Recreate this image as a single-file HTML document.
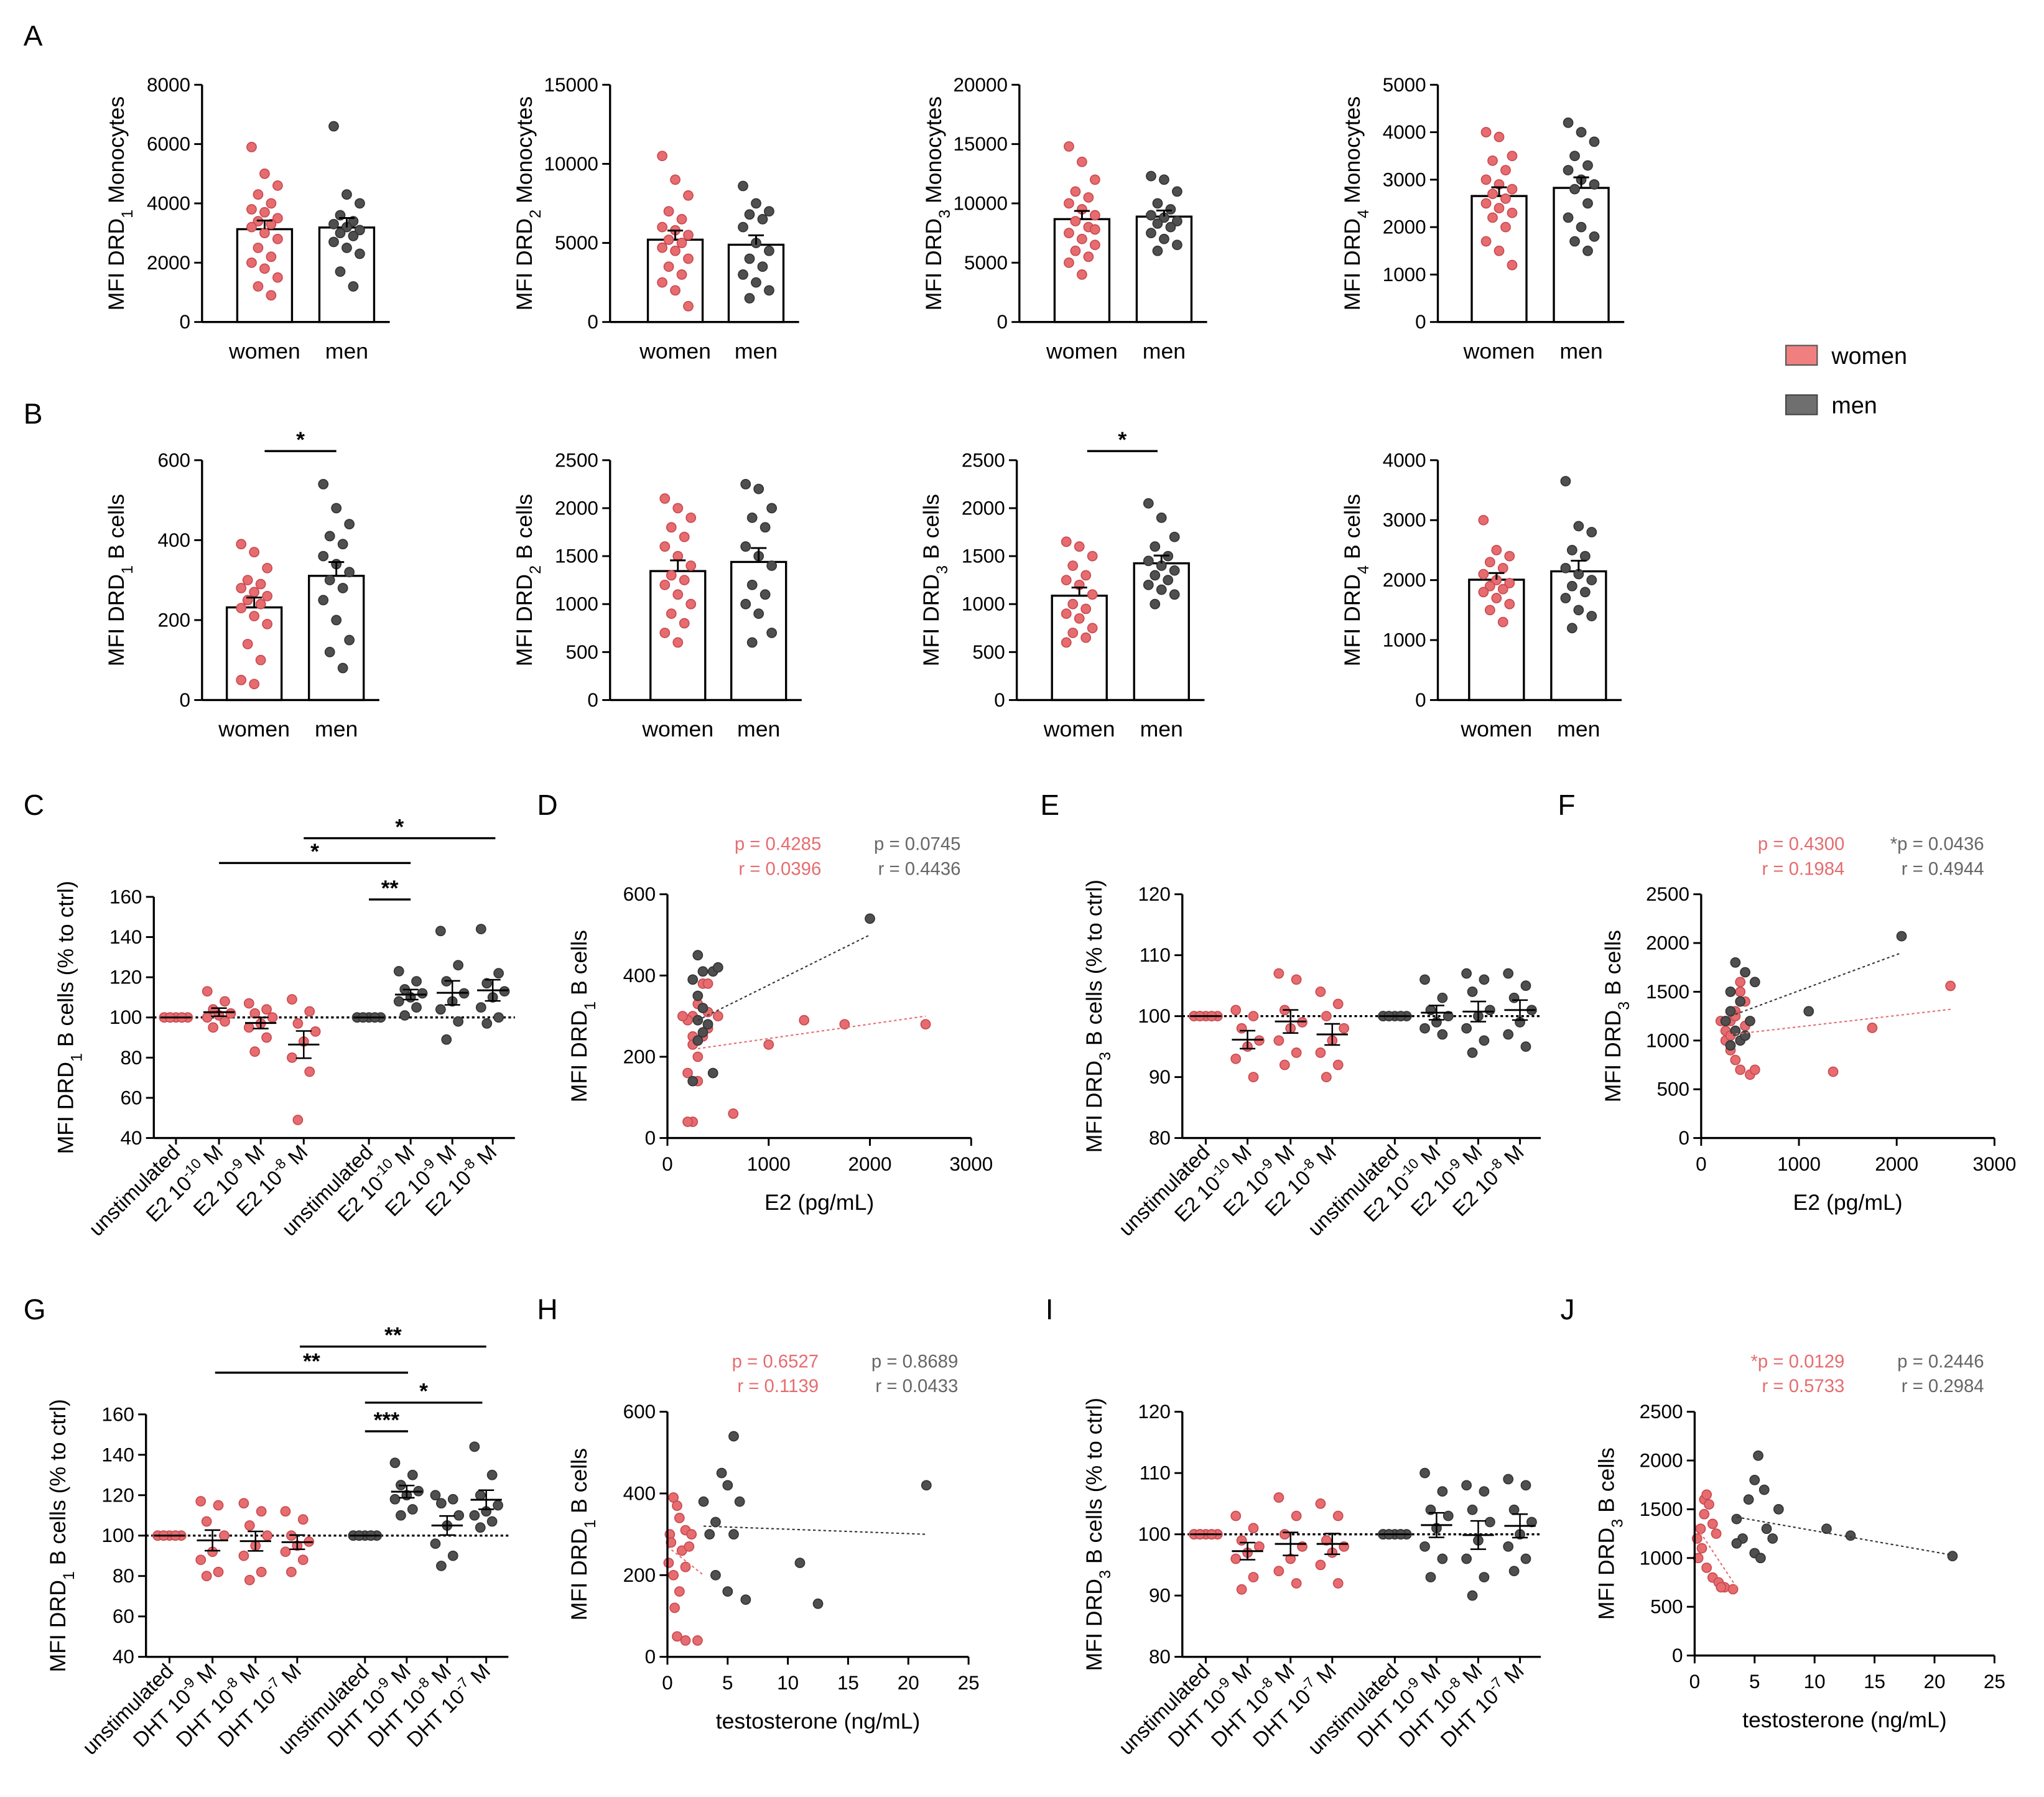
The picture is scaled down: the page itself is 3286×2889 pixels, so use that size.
<!DOCTYPE html>
<html><head><meta charset="utf-8"><style>
html,body{margin:0;padding:0;background:#fff}
svg{display:block;font-family:"Liberation Sans",Arial,sans-serif}
</style></head><body>
<svg id="fig" xmlns="http://www.w3.org/2000/svg" width="3286" height="2889" viewBox="0 0 1568 1378.5">
<rect width="1568" height="1378.5" fill="#fff"/>
<g id="root"></g>
</svg>
<script>
// ---------- data ----------
const barCategories = ["women","men"];
const a1Women=[5900,5000,4600,4300,4000,3800,3700,3500,3400,3300,3200,3000,2800,2500,2200,2000,1800,1500,1200,900];
const a1Men=[6600,4300,4000,3600,3400,3300,3200,3100,3000,2900,2700,2500,2300,1700,1200];
const a2Women=[10500,9000,8000,7000,6500,6000,5800,5500,5200,5000,4700,4500,4000,3500,3000,2500,2000,1000];
const a2Men=[8600,7500,7000,6800,6500,6000,5000,4500,4000,3500,3000,2500,2000,1500];
const a3Women=[14800,13500,12000,11000,10500,10000,9500,9000,8500,8000,7500,7000,6500,6000,5500,5000,4000,7800];
const a3Men=[12300,12000,11000,10000,9500,9000,8800,8500,8300,8000,7500,7000,6500,6000];
const a4Women=[4000,3900,3500,3400,3200,3000,2900,2800,2700,2600,2500,2400,2300,2200,2000,1700,1500,1200];
const a4Men=[4200,4000,3800,3500,3300,3200,3000,2900,2800,2500,2200,2000,1800,1700,1500];
const b1Women=[390,370,330,300,290,280,270,260,250,240,230,210,190,140,100,50,40];
const b1Men=[540,480,440,410,390,360,340,320,300,280,250,200,150,120,80];
const b2Women=[2100,2000,1900,1800,1700,1600,1500,1400,1300,1250,1200,1100,1000,900,800,700,600];
const b2Men=[2250,2200,2000,1900,1800,1600,1500,1400,1200,1100,1000,900,700,600];
const b3Women=[1650,1600,1500,1400,1300,1250,1200,1100,1000,950,900,850,750,700,650,600];
const b3Men=[2050,1900,1700,1600,1500,1450,1400,1350,1300,1250,1200,1150,1100,1000];
const b4Women=[3000,2500,2400,2300,2200,2100,2000,1950,1900,1850,1800,1700,1600,1500,1300];
const b4Men=[3650,2900,2800,2500,2400,2200,2100,2000,1900,1800,1700,1500,1400,1200];

const e2Labels=[["unstimulated","",""],["E2 10","-10"," M"],["E2 10","-9"," M"],["E2 10","-8"," M"],["unstimulated","",""],["E2 10","-10"," M"],["E2 10","-9"," M"],["E2 10","-8"," M"]];
const dhtLabels=[["unstimulated","",""],["DHT 10","-9"," M"],["DHT 10","-8"," M"],["DHT 10","-7"," M"],["unstimulated","",""],["DHT 10","-9"," M"],["DHT 10","-8"," M"],["DHT 10","-7"," M"]];
const unst=[100,100,100,100,100,100,100,100];
const cValues=[unst,[113,108,104,102,101,100,98,95],[107,104,102,100,97,95,90,83],[109,103,97,93,88,80,73,49],
 unst,[123,118,114,112,110,108,105,101],[143,126,118,112,108,104,98,89],[144,122,117,113,110,105,100,97]];
const eValues=[unst,[101,100,98,96,95,93,90],[107,106,101,99,98,96,94,92],[104,102,100,98,96,94,92,90],
 unst,[106,103,101,100,99,98,97],[107,106,104,101,100,98,96,94],[107,105,103,101,99,97,95]];
const gValues=[unst,[117,115,107,100,92,88,82,80],[116,112,105,100,95,90,82,78],[112,108,100,97,95,92,88,82],
 unst,[136,130,125,122,120,118,113,110],[120,118,116,110,105,96,90,85],[144,130,120,115,112,110,107,104]];
const iValues=[unst,[103,101,99,98,97,96,93,91],[106,103,100,98,96,94,92],[105,103,99,98,97,95,92],
 unst,[110,107,104,103,101,98,96,93],[108,107,104,102,99,96,93,90],[109,108,104,102,100,98,96,94]];

const dWomenX=[250,300,350,400,200,250,300,350,250,200,300,400,400,1000,1350,1750,2550,650,250,200,150,500];
const dWomenY=[300,330,380,380,290,250,200,250,230,160,140,310,270,230,290,280,280,60,40,40,300,300];
const dMenX=[300,350,450,250,300,350,400,350,300,450,250,300,2000,500];
const dMenY=[450,410,410,390,350,320,280,260,240,160,140,290,540,420];
const fWomenX=[300,350,400,450,250,300,350,400,500,250,200,400,1350,1750,2550,350,450,550,300];
const fWomenY=[1200,1300,1500,1400,1100,900,800,700,650,1000,1200,1600,680,1130,1560,1250,1150,700,1050];
const fMenX=[350,450,550,300,400,300,250,350,400,500,450,1100,2050,300];
const fMenY=[1800,1700,1600,1500,1400,1300,1200,1100,1000,1200,1050,1300,2070,950];
const hWomenX=[0.2,0.5,0.8,1,1.5,2,0.3,1.2,1.5,0.5,1,0.8,1.5,2.5,0.1,1.8,0.6];
const hWomenY=[300,390,370,340,310,300,280,260,220,200,160,50,40,40,230,270,120];
const hMenX=[3,4,4.5,5,5.5,6,4,5,6.5,11,12.5,21.5,3.5,5.5];
const hMenY=[380,330,450,420,540,380,200,160,140,230,130,420,300,300];
const jWomenX=[0.2,0.5,0.8,1,1.2,1.5,0.3,1,1.5,2,2.5,3.2,0.8,1.8,2.2,0.6];
const jWomenY=[1200,1300,1600,1650,1550,1350,1000,900,800,750,700,680,1450,1250,700,1100];
const jMenX=[3.5,4,4.5,5,5.3,5.8,6,6.5,3.5,5,5.5,7,11,13,21.5];
const jMenY=[1400,1200,1600,1800,2050,1700,1300,1200,1150,1050,1000,1500,1300,1230,1020];

// ---------- drawing ----------
const NS="http://www.w3.org/2000/svg";
const root=document.getElementById('root');
const RED="#e66c70", GRAY="#4f4f4f";
function el(tag,attrs,parent,txt){const e=document.createElementNS(NS,tag);for(const k in attrs)e.setAttribute(k,attrs[k]);if(txt!==undefined)e.textContent=txt;(parent||root).appendChild(e);return e;}
function lin(d0,d1,r0,r1){return v=>r0+(v-d0)/(d1-d0)*(r1-r0);}
function mean(a){return a.reduce((s,v)=>s+v,0)/a.length;}
function sem(a){const m=mean(a);return Math.sqrt(a.reduce((s,v)=>s+(v-m)*(v-m),0)/(a.length-1))/Math.sqrt(a.length);}
function ylab(g,x,cy,pre,sub,post){
  const t=el('text',{x:0,y:0,transform:`translate(${x},${cy}) rotate(-90)`,'text-anchor':'middle','font-size':17},g);
  
  
  el('tspan',{},t,pre);
  if(sub){el('tspan',{'baseline-shift':'sub','font-size':12},t,sub);el('tspan',{},t,post);}
}
function yaxis(g,x,y0,y1,ticks,ys){
  el('line',{x1:x,y1:y0,x2:x,y2:y1,stroke:'#000','stroke-width':1.6},g);
  ticks.forEach(v=>{el('line',{x1:x-6,y1:ys(v),x2:x,y2:ys(v),stroke:'#000','stroke-width':1.4},g);
    const t=el('text',{x:x-9,y:ys(v)+5,'text-anchor':'end','font-size':15},g,String(v));
    
    });
}
function dot(g,x,y,c,name){const d=el('circle',{cx:x,cy:y,r:3.6,fill:c,stroke:c==RED?'#c84a50':'#333','stroke-width':0.8},g);
  
  }
function letter(x,y,L){const t=el('text',{x:x,y:y,'font-size':22},root,L);
  
  }
function sig(g,x1,x2,y,s){el('line',{x1:x1,y1:y,x2:x2,y2:y,stroke:'#000','stroke-width':1.6},g);
  const t=el('text',{x:(x1+x2)/2,y:y-3,'text-anchor':'middle','font-size':17,'font-weight':'bold'},g,s);
  
  }

function barPanel(name,ax,top,bot,ymax,step,centers,women,men,lab){
  const g=el('g',{});
  const ys=lin(0,ymax,bot,top);const ticks=[];for(let v=0;v<=ymax;v+=step)ticks.push(v);
  [women,men].forEach((arr,k)=>{
    const cx=centers[k],m=mean(arr),s=sem(arr),c=k?GRAY:RED;
    const b=el('rect',{x:cx-21,y:ys(m),width:42,height:bot-ys(m),fill:'#fff',stroke:'#000','stroke-width':1.6},g);
    
    
    arr.forEach((v,i)=>dot(g,cx+((i*7)%5-2)*5,ys(v),c,'dot-'+barCategories[k]));
    el('line',{x1:cx,y1:ys(m+s),x2:cx,y2:ys(m),stroke:'#000','stroke-width':1.4},g);
    el('line',{x1:cx-6,y1:ys(m+s),x2:cx+6,y2:ys(m+s),stroke:'#000','stroke-width':1.4},g);
    const t=el('text',{x:cx,y:bot+28,'text-anchor':'middle','font-size':17},g,barCategories[k]);
    
    
  });
  el('line',{x1:ax,y1:bot,x2:centers[1]+33,y2:bot,stroke:'#000','stroke-width':1.6},g);
  yaxis(g,ax,bot,top,ticks,ys);
  ylab(g,ax-60,(top+bot)/2,lab[0],lab[1],lab[2]);
  return {g,ys};
}
function stimPanel(name,ax,xend,top,bot,ymin,ymax,step,centers,vals,labels,lab){
  const g=el('g',{});
  const ys=lin(ymin,ymax,bot,top);const ticks=[];for(let v=ymin;v<=ymax;v+=step)ticks.push(v);
  el('line',{x1:ax,y1:ys(100),x2:xend,y2:ys(100),stroke:'#000','stroke-width':1.6,'stroke-dasharray':'2,2'},g);
  vals.forEach((arr,k)=>{
    const cx=centers[k],c=k<4?RED:GRAY,m=mean(arr),s=sem(arr);
    arr.forEach((v,i)=>dot(g,cx+((i*3)%5-2)*4.5,ys(v),c,'dot-'+(k<4?'women':'men')));
    el('line',{x1:cx-12,y1:ys(m),x2:cx+12,y2:ys(m),stroke:'#000','stroke-width':1.4},g);
    el('line',{x1:cx,y1:ys(m+s),x2:cx,y2:ys(m-s),stroke:'#000','stroke-width':1.2},g);
    el('line',{x1:cx-6,y1:ys(m+s),x2:cx+6,y2:ys(m+s),stroke:'#000','stroke-width':1.2},g);
    el('line',{x1:cx-6,y1:ys(m-s),x2:cx+6,y2:ys(m-s),stroke:'#000','stroke-width':1.2},g);
    el('line',{x1:cx,y1:bot,x2:cx,y2:bot+5,stroke:'#000','stroke-width':1.4},g);
    const L=labels[k];
    const t=el('text',{x:0,y:0,transform:`translate(${cx+4},${bot+12}) rotate(-45)`,'text-anchor':'end','font-size':16},g);
    
    
    el('tspan',{},t,L[0]);
    if(L[1]){el('tspan',{'baseline-shift':'super','font-size':11},t,L[1]);el('tspan',{},t,L[2]);}
  });
  el('line',{x1:ax,y1:bot,x2:xend,y2:bot,stroke:'#000','stroke-width':1.6},g);
  yaxis(g,ax,bot,top,ticks,ys);
  ylab(g,ax-62,(top+bot)/2,lab[0],lab[1],lab[2]);
  return g;
}
function scatPanel(name,ax,xend,top,bot,xmax,xstep,ymax,ystep,wx,wy,mx,my,wl,ml,txt,xtitle,lab){
  const g=el('g',{});
  const xs=lin(0,xmax,ax,xend),ys=lin(0,ymax,bot,top);
  const yt=[];for(let v=0;v<=ymax;v+=ystep)yt.push(v);
  const xt=[];for(let v=0;v<=xmax;v+=xstep)xt.push(v);
  wx.forEach((v,i)=>dot(g,xs(v),ys(wy[i]),RED,'point-women'));
  mx.forEach((v,i)=>dot(g,xs(v),ys(my[i]),GRAY,'point-men'));
  const l1=el('line',{x1:xs(ml[0]),y1:ys(ml[1]),x2:xs(ml[2]),y2:ys(ml[3]),stroke:'#333','stroke-width':1,'stroke-dasharray':'2,2'},g);
  
  const l2=el('line',{x1:xs(wl[0]),y1:ys(wl[1]),x2:xs(wl[2]),y2:ys(wl[3]),stroke:RED,'stroke-width':1,'stroke-dasharray':'2,2'},g);
  
  el('line',{x1:ax,y1:bot,x2:xend,y2:bot,stroke:'#000','stroke-width':1.6},g);
  xt.forEach(v=>{el('line',{x1:xs(v),y1:bot,x2:xs(v),y2:bot+6,stroke:'#000','stroke-width':1.4},g);
    const t=el('text',{x:xs(v),y:bot+25,'text-anchor':'middle','font-size':15},g,String(v));
    });
  yaxis(g,ax,bot,top,yt,ys);
  const xt2=el('text',{x:(ax+xend)/2,y:bot+55,'text-anchor':'middle','font-size':17},g,xtitle);
  
  ylab(g,ax-62,(top+bot)/2,lab[0],lab[1],lab[2]);
  [[txt[0],txt[1],RED],[txt[2],txt[3],'#666']].forEach((p,k)=>{
    const x=k?xend-8:xend-115;
    const t1=el('text',{x:x,y:top-34,'text-anchor':'end','font-size':14,fill:p[2]},g,p[0]);
    
    const t2=el('text',{x:x,y:top-15,'text-anchor':'end','font-size':14,fill:p[2]},g,p[1]);
    
  });
  return g;
}

// Row A
barPanel('panel-a-drd1',155,65,247,8000,2000,[203,266],a1Women,a1Men,['MFI DRD','1',' Monocytes']);
barPanel('panel-a-drd2',468,65,247,15000,5000,[518,580],a2Women,a2Men,['MFI DRD','2',' Monocytes']);
barPanel('panel-a-drd3',782,65,247,20000,5000,[830,893],a3Women,a3Men,['MFI DRD','3',' Monocytes']);
barPanel('panel-a-drd4',1103,65,247,5000,1000,[1150,1213],a4Women,a4Men,['MFI DRD','4',' Monocytes']);
// Row B
const pb1=barPanel('panel-b-drd1',155,353,537,600,200,[195,258],b1Women,b1Men,['MFI DRD','1',' B cells']);
sig(pb1.g,203,258,346,'*');
barPanel('panel-b-drd2',468,353,537,2500,500,[520,582],b2Women,b2Men,['MFI DRD','2',' B cells']);
const pb3=barPanel('panel-b-drd3',780,353,537,2500,500,[828,891],b3Women,b3Men,['MFI DRD','3',' B cells']);
sig(pb3.g,834,888,346,'*');
barPanel('panel-b-drd4',1103,353,537,4000,1000,[1148,1211],b4Women,b4Men,['MFI DRD','4',' B cells']);
// legend
const lg=el('g',{});
el('rect',{x:1370,y:265,width:24,height:15,fill:'#f08080',stroke:'#555','stroke-width':1},lg);
el('text',{x:1405,y:279,'font-size':18},lg,'women');
el('rect',{x:1370,y:303,width:24,height:15,fill:'#6f6f6f',stroke:'#444','stroke-width':1},lg);
el('text',{x:1405,y:317,'font-size':18},lg,'men');
// Row C
const gc=stimPanel('panel-c',118,395,688,873,40,160,20,[135,168,200,233,283,315,347,378],cValues,e2Labels,['MFI DRD','1',' B cells (% to ctrl)']);
sig(gc,283,315,690,'**');sig(gc,168,315,662,'*');sig(gc,233,380,643,'*');
scatPanel('panel-d',512,745,686,873,3000,1000,600,200,dWomenX,dWomenY,dMenX,dMenY,[300,220,2550,300],[300,290,2000,500],['p = 0.4285','r = 0.0396','p = 0.0745','r = 0.4436'],'E2 (pg/mL)',['MFI DRD','1',' B cells']);
stimPanel('panel-e',907,1182,686,873,80,120,10,[925,957,990,1022,1070,1102,1134,1166],eValues,e2Labels,['MFI DRD','3',' B cells (% to ctrl)']);
scatPanel('panel-f',1305,1530,686,873,3000,1000,2500,500,fWomenX,fWomenY,fMenX,fMenY,[300,1060,2550,1320],[300,1250,2050,1900],['p = 0.4300','r = 0.1984','*p = 0.0436','r = 0.4944'],'E2 (pg/mL)',['MFI DRD','3',' B cells']);
// Row G
const gg=stimPanel('panel-g',112,390,1085,1271,40,160,20,[130,163,196,228,280,312,343,373],gValues,dhtLabels,['MFI DRD','1',' B cells (% to ctrl)']);
sig(gg,230,373,1033,'**');sig(gg,165,313,1053,'**');sig(gg,280,370,1076,'*');sig(gg,280,313,1098,'***');
scatPanel('panel-h',512,743,1083,1271,25,5,600,200,hWomenX,hWomenY,hMenX,hMenY,[0,270,3,200],[3,320,21.5,300],['p = 0.6527','r = 0.1139','p = 0.8689','r = 0.0433'],'testosterone (ng/mL)',['MFI DRD','1',' B cells']);
stimPanel('panel-i',907,1182,1083,1271,80,120,10,[925,957,990,1022,1070,1102,1134,1166],iValues,dhtLabels,['MFI DRD','3',' B cells (% to ctrl)']);
scatPanel('panel-j',1300,1530,1083,1270,25,5,2500,500,jWomenX,jWomenY,jMenX,jMenY,[0,1350,3.5,700],[3.5,1420,21.5,1030],['*p = 0.0129','r = 0.5733','p = 0.2446','r = 0.2984'],'testosterone (ng/mL)',['MFI DRD','3',' B cells']);
// letters
[[18,35,'A'],[18,325,'B'],[18,625,'C'],[412,625,'D'],[798,625,'E'],[1195,625,'F'],[18,1012,'G'],[412,1012,'H'],[802,1012,'I'],[1197,1012,'J']].forEach(p=>letter(p[0],p[1],p[2]));
</script>
</body></html>
